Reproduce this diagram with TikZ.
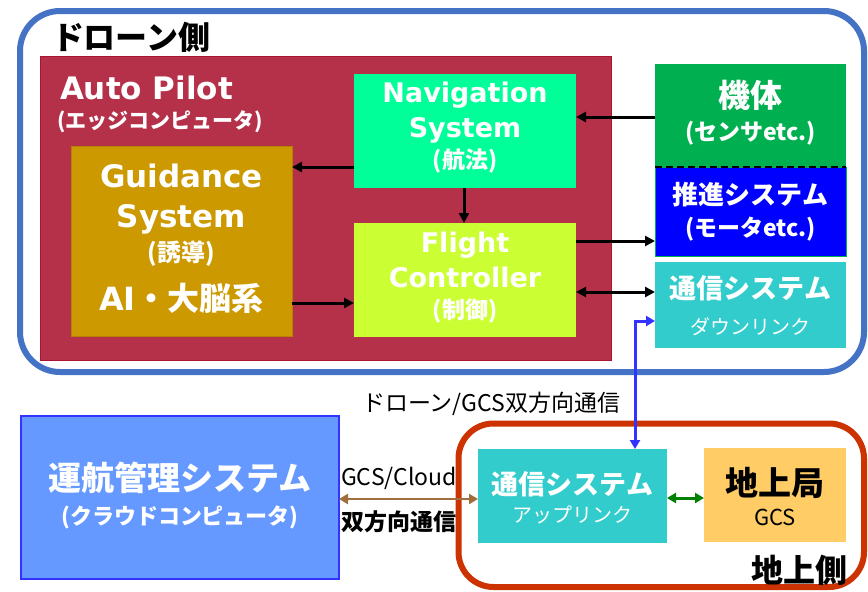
\documentclass[tikz,border=0pt]{standalone}
\usepackage{fontspec}
\setmainfont{DejaVu Sans}
\newfontfamily\jp{Noto Sans CJK JP}
\usetikzlibrary{arrows.meta}
\definecolor{dronebl}{RGB}{68,114,196}
\definecolor{apred}{RGB}{181,49,74}
\definecolor{apedge}{RGB}{170,20,50}
\definecolor{navgr}{RGB}{0,255,153}
\definecolor{guiy}{RGB}{204,153,0}
\definecolor{guiedge}{RGB}{180,130,0}
\definecolor{fcy}{RGB}{204,255,51}
\definecolor{kitaigr}{RGB}{0,176,80}
\definecolor{suibl}{RGB}{0,0,255}
\definecolor{tsucy}{RGB}{51,204,204}
\definecolor{unkobl}{RGB}{102,153,255}
\definecolor{unkoedge}{RGB}{51,51,255}
\definecolor{gndred}{RGB}{204,51,0}
\definecolor{gcsor}{RGB}{255,204,102}
\definecolor{brownarr}{RGB}{160,110,60}
\definecolor{greenarr}{RGB}{0,128,0}
\definecolor{bluearr}{RGB}{51,51,255}
\newcommand\fsz[1]{\fontsize{#1}{#1}\selectfont}
\begin{document}
\begin{tikzpicture}[x=1pt,y=-1pt,
  blk/.style={inner sep=0pt, outer sep=0pt},
  wt/.style={inner sep=0pt, outer sep=0pt, text=white},
  bt/.style={inner sep=0pt, outer sep=0pt, text=black},
  arr/.style={line width=3pt, -{Triangle[length=10pt,width=10pt]}},
  darr/.style={line width=3pt, {Triangle[length=10pt,width=10pt]}-{Triangle[length=10pt,width=10pt]}},
  sarr/.style={line width=3pt, {Triangle[length=9pt,width=10pt]}-{Triangle[length=9pt,width=10pt]}}
]
\useasboundingbox (0,0) rectangle (868,592);
\fill[white] (0,0) rectangle (868,592);

% outer group frames
\draw[dronebl, line width=6pt, rounded corners=40pt] (20,11) rectangle (864,372);
\draw[gndred, line width=6pt, rounded corners=35pt] (458.5,423.5) rectangle (864,587);
\node[bt, anchor=west, font=\jp\bfseries\fsz{32}] (dronelbl) at (52,37) {ドローン側};
\node[bt, anchor=west, font=\jp\bfseries\fsz{32}] (gndlbl) at (751,570) {地上側};

% Auto pilot
\node[blk, fill=apred, draw=apedge, line width=0.8pt, minimum width=571pt, minimum height=304pt] (ap) at (325.5,208) {};
\node[wt, anchor=base west, font=\bfseries\fsz{31}] (aptitle) at (60,99) {Auto Pilot};
\node[wt, anchor=west, font=\jp\bfseries\fsz{21}] (apsub) at (57,122) {(エッジコンピュータ)};

% Navigation
\node[blk, fill=navgr, minimum width=222pt, minimum height=114pt] (nav) at (465,131) {};
\node[wt, anchor=base, font=\bfseries\fsz{27}] (nav1) at (465,102) {Navigation};
\node[wt, anchor=base, font=\bfseries\fsz{27}] (nav2) at (465,137) {System};
\node[wt, font=\jp\bfseries\fsz{23}] (nav3) at (465,161) {(航法)};

% Guidance
\node[blk, fill=guiy, draw=guiedge, line width=0.8pt, minimum width=221pt, minimum height=190pt] (gui) at (181.5,241) {};
\node[wt, anchor=base, font=\bfseries\fsz{31}] (gui1) at (181.5,187) {Guidance};
\node[wt, anchor=base, font=\bfseries\fsz{31}] (gui2) at (181.5,227) {System};
\node[wt, font=\jp\bfseries\fsz{24}] (gui3) at (181.5,254) {(誘導)};
\node[wt, anchor=base, font=\bfseries\fsz{32}] (gui4) at (181.5,310) {AI{\jp ・大脳系}};

% Flight controller
\node[blk, fill=fcy, minimum width=222pt, minimum height=114pt] (fc) at (465,280) {};
\node[wt, anchor=base, font=\bfseries\fsz{27}] (fc1) at (465,252) {Flight};
\node[wt, anchor=base, font=\bfseries\fsz{27}] (fc2) at (465,287) {Controller};
\node[wt, font=\jp\bfseries\fsz{23}] (fc3) at (465,311) {(制御)};

% Airframe / propulsion / downlink
\node[blk, fill=kitaigr, minimum width=191pt, minimum height=103pt] (kitai) at (750.5,115.5) {};
\node[wt, font=\jp\bfseries\fsz{32}] (kitai1) at (750.5,95) {機体};
\node[wt, font=\jp\bfseries\fsz{23}] (kitai2) at (750.5,133) {(センサetc.)};
\node[blk, fill=suibl, draw=kitaigr, line width=0.8pt, minimum width=191pt, minimum height=89pt] (sui) at (750.5,211.5) {};
\node[wt, font=\jp\bfseries\fsz{26}] (sui1) at (750.5,195) {推進システム};
\node[wt, font=\jp\bfseries\fsz{23}] (sui2) at (750.5,229) {(モータetc.)};
\draw[line width=2pt, dash pattern=on 7pt off 4pt] (kitai.south west) -- (kitai.south east);
\node[blk, fill=tsucy, minimum width=191pt, minimum height=86pt] (dl) at (750.5,305) {};
\node[wt, font=\jp\bfseries\fsz{27}] (dl1) at (750.5,288) {通信システム};
\node[wt, font=\jp\fsz{20}] (dl2) at (750.5,327) {ダウンリンク};

% Ground side
\node[blk, fill=unkobl, draw=unkoedge, line width=2pt, minimum width=318pt, minimum height=163pt] (unko) at (180,497.5) {};
\node[wt, font=\jp\bfseries\fsz{33}] (unko1) at (180,478) {運航管理システム};
\node[wt, font=\jp\bfseries\fsz{22}] (unko2) at (180,517) {(クラウドコンピュータ)};
\node[blk, fill=tsucy, minimum width=189pt, minimum height=94pt] (ul) at (572.5,496) {};
\node[wt, font=\jp\bfseries\fsz{27}] (ul1) at (572.5,484) {通信システム};
\node[wt, font=\jp\fsz{20}] (ul2) at (572.5,515) {アップリンク};
\node[blk, fill=gcsor, minimum width=142pt, minimum height=94pt] (gcs) at (775,495) {};
\node[bt, font=\jp\bfseries\fsz{33}] (gcs1) at (775,483) {地上局};
\node[bt, font=\jp\fsz{22}] (gcs2) at (775,517) {GCS};

% labels
\node[bt, anchor=west, font=\jp\fsz{23}] (dgcs) at (362,404) {ドローン/GCS双方向通信};
\node[bt, font=\jp\fsz{23}] (cl1) at (399,478) {GCS/Cloud};
\node[bt, font=\jp\bfseries\fsz{23}] (cl2) at (399,522) {双方向通信};

% connectors
\draw[arr] (kitai.west |- 0,117) -- (nav.east |- 0,117);
\draw[arr] (nav.west |- 0,167) -- (gui.east |- 0,167);
\draw[arr] (nav.south -| 464,0) -- (fc.north -| 464,0);
\draw[arr] (gui.east |- 0,303) -- (fc.west |- 0,303);
\draw[arr] (fc.east |- 0,241) -- (sui.west |- 0,241);
\draw[darr] (fc.east |- 0,292) -- (dl.west |- 0,292);
\draw[sarr, bluearr] (ul.north -| 635,0) -- (635,321) -- (dl.west |- 0,321);
\draw[sarr, greenarr] (ul.east |- 0,498) -- (gcs.west |- 0,498);
\draw[sarr, brownarr, line width=2.5pt] (unko.east |- 0,499) -- (ul.west |- 0,499);
\end{tikzpicture}
\end{document}
